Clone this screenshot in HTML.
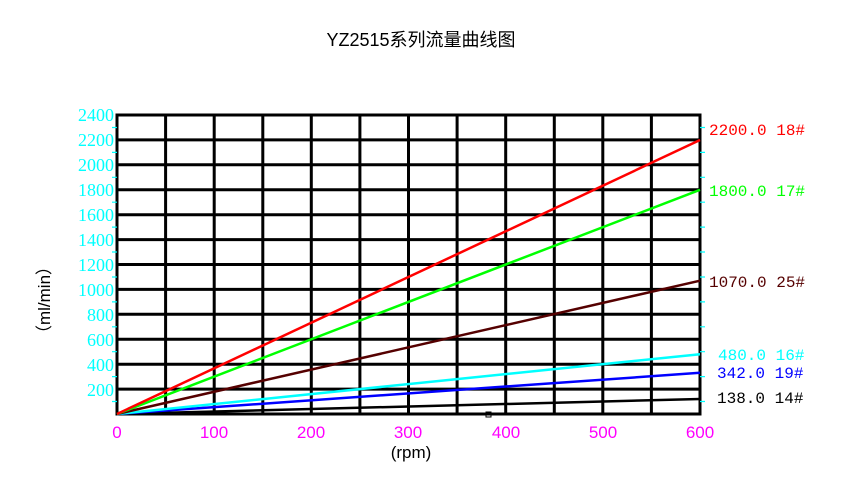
<!DOCTYPE html>
<html><head><meta charset="utf-8"><style>body{margin:0;background:#fff}</style></head><body>
<svg width="843" height="476" xmlns="http://www.w3.org/2000/svg">
<rect width="843" height="476" fill="#fff"/>
<text x="421" y="46" text-anchor="middle" font-family="Liberation Sans, Noto Sans CJK SC, sans-serif" font-size="18">YZ2515系列流量曲线图</text>
<g stroke="#000" stroke-width="3" fill="none">
<rect x="117" y="115" width="583" height="299"/>
<path d="M165.6 115V414M214.2 115V414M262.8 115V414M311.3 115V414M359.9 115V414M408.5 115V414M457.1 115V414M505.7 115V414M554.3 115V414M602.8 115V414M651.4 115V414"/>
<path d="M117 139.9H700M117 164.8H700M117 189.8H700M117 214.7H700M117 239.6H700M117 264.5H700M117 289.4H700M117 314.3H700M117 339.3H700M117 364.2H700M117 389.1H700"/>
</g>
<g stroke="#0ff" stroke-width="1.2">
<path d="M112 127.5H117M112 152.4H117M112 177.3H117M112 202.2H117M112 227.1H117M112 252H117M112 277H117M112 301.9H117M112 326.8H117M112 351.7H117M112 376.6H117M112 401.5H117"/>
<path d="M700 127.5H705M700 152.4H705M700 177.3H705M700 202.2H705M700 227.1H705M700 252H705M700 277H705M700 301.9H705M700 326.8H705M700 351.7H705M700 376.6H705M700 401.5H705"/>
</g>
<g font-family="Liberation Serif, serif" font-size="18" fill="#0ff" text-anchor="end">
<text x="114" y="121">2400</text><text x="114" y="146">2200</text><text x="114" y="171">2000</text><text x="114" y="196">1800</text><text x="114" y="221">1600</text><text x="114" y="246">1400</text><text x="114" y="271">1200</text><text x="114" y="296">1000</text><text x="114" y="321">800</text><text x="114" y="346">600</text><text x="114" y="371">400</text><text x="114" y="396">200</text>
</g>
<g font-family="Liberation Sans, sans-serif" font-size="17" fill="#f0f" text-anchor="middle">
<text x="117" y="438">0</text><text x="214" y="438">100</text><text x="311" y="438">200</text><text x="408" y="438">300</text><text x="506" y="438">400</text><text x="603" y="438">500</text><text x="700" y="438">600</text>
</g>
<text x="411" y="458" text-anchor="middle" font-family="Liberation Sans, sans-serif" font-size="17">(rpm)</text>
<text transform="translate(50,300) rotate(-90)" text-anchor="middle" font-family="Liberation Sans, Noto Sans CJK SC, sans-serif" font-size="17">（ml/min）</text>
<g stroke-width="2.5" fill="none">
<line x1="117" y1="414" x2="700" y2="399.0" stroke="#000"/>
<line x1="117" y1="414" x2="700" y2="372.8" stroke="#00f"/>
<line x1="117" y1="414" x2="700" y2="354.2" stroke="#0ff"/>
<line x1="117" y1="414" x2="700" y2="280.7" stroke="#500"/>
<line x1="117" y1="414" x2="700" y2="189.8" stroke="#0f0"/>
<line x1="117" y1="414" x2="700" y2="140.0" stroke="#f00"/>
</g>
<rect x="486" y="412" width="5" height="5" fill="none" stroke="#000" stroke-width="1"/>
<g font-family="Liberation Mono, DejaVu Sans Mono, monospace" font-size="16">
<text x="709" y="135" fill="#f00">2200.0 18#</text>
<text x="709" y="196" fill="#0f0">1800.0 17#</text>
<text x="709" y="287" fill="#500">1070.0 25#</text>
<text x="718" y="360" fill="#0ff">480.0 16#</text>
<text x="717" y="378" fill="#00f">342.0 19#</text>
<text x="717" y="403" fill="#000">138.0 14#</text>
</g>
</svg>
</body></html>
